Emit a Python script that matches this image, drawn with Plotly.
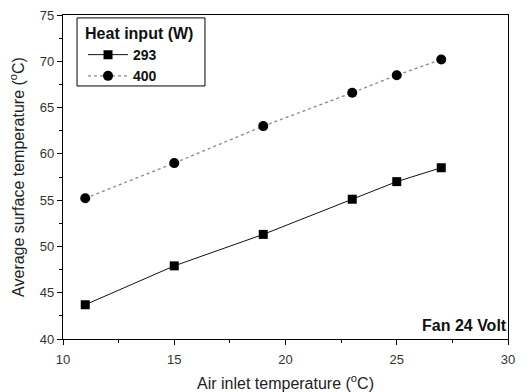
import plotly.graph_objects as go

air_inlet = [11, 15, 19, 23, 25, 27]
temp_293 = [43.7, 47.9, 51.3, 55.1, 57.0, 58.5]
temp_400 = [55.2, 59.0, 63.0, 66.6, 68.5, 70.2]

font = "Liberation Sans, Arial, sans-serif"

fig = go.Figure()
fig.add_trace(go.Scatter(x=air_inlet, y=temp_293, name="<b>293</b>", mode="lines+markers",
                         line=dict(color="#111", width=1),
                         marker=dict(symbol="square", size=9, color="black")))
fig.add_trace(go.Scatter(x=air_inlet, y=temp_400, name="<b>400</b>", mode="lines+markers",
                         line=dict(color="#888", width=1.3, dash="dot"),
                         marker=dict(symbol="circle", size=10, color="black")))

axis_common = dict(showline=True, linecolor="black", linewidth=1.3, mirror=True,
                   ticks="outside", ticklen=5, tickcolor="black", showgrid=False, zeroline=False,
                   automargin=False,
                   tickfont=dict(size=13, color="#333", family=font))

fig.update_xaxes(range=[10, 30], dtick=5, ticklabelstandoff=3,
                 title=dict(text="Air inlet temperature (<sup>o</sup>C)",
                            font=dict(size=16, color="#222", family=font), standoff=14),
                 minor=dict(ticks="outside", ticklen=3, dtick=2.5, tickcolor="black"), **axis_common)
fig.update_yaxes(range=[40, 75], dtick=5,
                 title=dict(text="Average surface temperature (<sup>o</sup>C)",
                            font=dict(size=16, color="#222", family=font), standoff=11),
                 minor=dict(ticks="outside", ticklen=3, dtick=2.5, tickcolor="black"), **axis_common)

fig.add_annotation(x=1.0, y=0.0, xref="paper", yref="paper", xanchor="right", yanchor="bottom",
                   text="<b>Fan 24 Volt</b>", showarrow=False, xshift=1, yshift=3,
                   font=dict(size=16, color="#111", family=font))

# legend frame
fig.add_shape(type="rect", xref="paper", yref="paper",
              x0=0.0315, x1=0.319, y0=0.781, y1=0.991,
              line=dict(color="black", width=1), fillcolor="rgba(0,0,0,0)", layer="above")

fig.update_layout(
    width=529, height=392,
    margin=dict(l=63, r=21, t=15, b=53, autoexpand=False),
    paper_bgcolor="white", plot_bgcolor="white",
    font=dict(family=font, color="#111"),
    showlegend=True,
    legend=dict(x=0.045, y=0.99, xanchor="left", yanchor="top",
                borderwidth=0, bgcolor="rgba(0,0,0,0)",
                title=dict(text="<b>Heat input (W)</b>", font=dict(size=16)),
                font=dict(size=14), tracegroupgap=0, itemwidth=40),
)

fig.write_html("out.html", config={"displayModeBar": False},
               post_script="document.body.style.margin='0px';")
